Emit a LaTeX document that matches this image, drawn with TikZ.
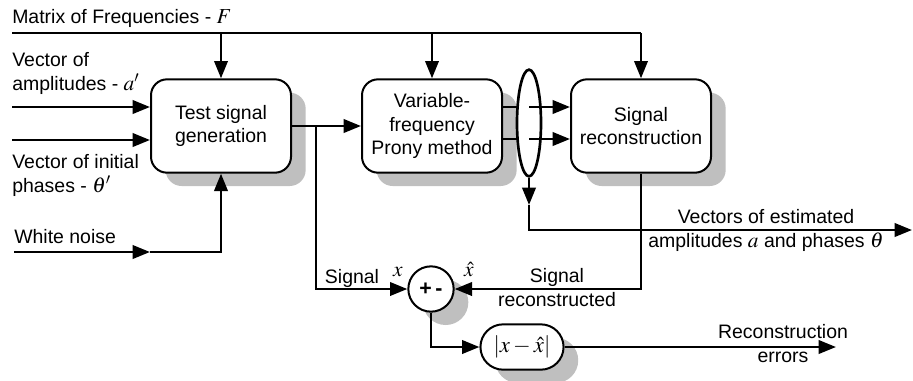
\documentclass[tikz,border=0pt]{standalone}
\usepackage{mathptmx}
\usepackage{fontspec}
\setmainfont{Liberation Sans}
\usetikzlibrary{arrows.meta,shapes.geometric,shapes.misc,shadows}

\tikzset{
  line/.style={line width=2pt},
  arr/.style={line width=2pt,-{Triangle[length=13pt,width=10pt]}},
  shade/.style={drop shadow={shadow xshift=11pt,shadow yshift=-10pt,fill=black!25,opacity=1}},
  blk/.style={draw,line width=1.5pt,fill=white,rounded corners=12pt,shade,
              minimum width=105pt,minimum height=70pt,align=center},
  sumc/.style={draw,line width=1.5pt,fill=white,circle,shade,minimum size=34pt,inner sep=0pt},
  absb/.style={draw,line width=1.5pt,fill=white,rounded rectangle,shade,
               minimum width=69pt,minimum height=34pt},
  ell/.style={draw,line width=2pt,fill=white,ellipse,minimum width=18pt,minimum height=80pt,inner sep=0pt},
  lbl/.style={align=left,inner sep=0pt},
}
\newcommand{\mv}[1]{{\fontsize{16}{16}\selectfont$#1$}}

\begin{document}
\begin{tikzpicture}[x=0.75pt,y=-0.75pt,font=\fontsize{14.6}{17.3}\selectfont]
   \useasboundingbox (0,0) rectangle (913,380);
   \node[blk] (tsg) at (221,126) {Test signal\\generation};
   \node[blk] (prony) at (432,126) {Variable-\\frequency\\Prony method};
   \node[blk] (rec) at (641,126) {Signal\\reconstruction};
   \node[sumc] (sum) at (431,289) {\fontsize{16}{16}\selectfont\textbf{+\,-}};
   \node[absb] (abs) at (522,347) {\fontsize{17}{17}\selectfont$\left|x-\hat{x}\right|$};

   \coordinate (ftop) at (12,33);
   \coordinate (ain) at (12,107);
   \coordinate (pin) at (12,140);
   \coordinate (wn) at (14,252);
   \coordinate (wnmid) at (150,252);
   \coordinate (br) at (316,126);
   \coordinate (y1) at (0,107);
   \coordinate (y2) at (0,139);
   \coordinate (vmid) at (529,205);
   \coordinate (vy) at (0,230);
   \coordinate (vec) at (912,230);
   \coordinate (err) at (836,347);

   % frequencies
   \draw[line] (ftop) -- (ftop -| rec.north);
   \draw[arr] (ftop -| tsg.north) -- (tsg.north);
   \draw[arr] (ftop -| prony.north) -- (prony.north);
   \draw[arr] (ftop -| rec.north) -- (rec.north);

   % inputs
   \draw[arr] (ain) -- (ain -| tsg.west);
   \draw[arr] (pin) -- (pin -| tsg.west);
   \draw[arr] (wn) -- (wnmid);
   \draw[arr] (wnmid) -- (tsg.south |- wn) -- (tsg.south);

   \draw[arr] (tsg.east |- br) -- (prony.west |- br);
   \draw[arr] (br) -- (br |- sum) -- (sum.west);

   % prony outputs
   \draw[line] (prony.east |- y1) -- (529,107);
   \draw[line] (prony.east |- y2) -- (529,139);
   \node[ell] (ell) at (529,123) {};
   \draw[arr] (ell.center |- y1) -- (rec.west |- y1);
   \draw[arr] (ell.center |- y2) -- (rec.west |- y2);
   \draw[arr] (ell.south) -- (vmid);
   \draw[arr] (vmid) -- (vmid |- vy) -- (vec);

   \draw[arr] (rec.south) -- (rec.south |- sum) -- (sum.east);
   \draw[arr] (sum.south) |- (abs.west);
   \draw[arr] (abs.east) -- (err);

   % labels
   \node[lbl,anchor=base west] at (12,23) {Matrix of Frequencies - \mv{F}};
   \node[lbl,anchor=base west] at (12,90) {Vector of\\amplitudes - \mv{a'}};
   \node[lbl,anchor=base west] at (12,192) {Vector of initial\\phases - \mv{\theta'}};
   \node[lbl,anchor=base west] at (14,243) {White noise};
   \node[lbl,anchor=base] at (352,283) {Signal};
   \node[lbl,anchor=base] at (398,276) {\mv{x}};
   \node[lbl,anchor=base] at (469,276) {\mv{\hat{x}}};
   \node[lbl,anchor=base,align=center] at (557,306) {Signal\\reconstructed};
   \node[lbl,anchor=base,align=center] at (766,247) {Vectors of estimated\\amplitudes \mv{a} and phases \mv{\theta}};
   \node[lbl,anchor=base,align=center] at (783,362) {Reconstruction\\errors};
\end{tikzpicture}
\end{document}
